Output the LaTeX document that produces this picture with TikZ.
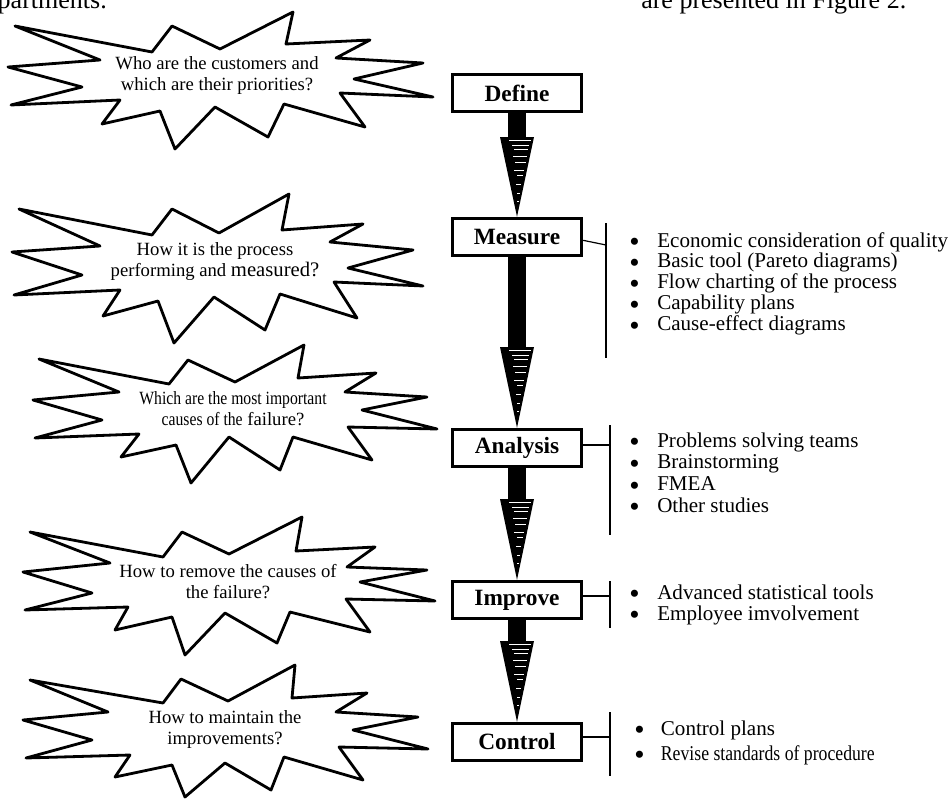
\documentclass[tikz,border=0pt]{standalone}
\usepackage{graphicx}
\usepackage{fontspec}
\setmainfont{Liberation Serif}
\newfontfamily\narrowfont[FakeStretch=0.84]{Liberation Serif}
\newcommand\bigbul{\smash{\raisebox{-0.5ex}{\scalebox{1.4}{\textbullet}}}}
\usetikzlibrary{calc}
\begin{document}
\begin{tikzpicture}[x=0.75pt,y=-0.75pt,
  burst/.style={draw=black, line width=2.1pt, line join=round, fill=white},
  qtext/.style={align=center, inner sep=0pt, font=\fontsize{14}{15.75}\selectfont},
  stage/.style={draw=black, line width=2.3pt, fill=white, minimum width=97pt, minimum height=28pt, inner sep=0pt, font=\bfseries\fontsize{17.5}{20}\selectfont},
  bracketline/.style={line width=0.9pt},
  listitem/.style={anchor=base west, inner sep=0pt, font=\fontsize{15.8}{18}\selectfont},
  toptext/.style={inner sep=0pt, font=\fontsize{19.5}{22}\selectfont},
  streak/.style={white, line width=0.75pt},
]
\useasboundingbox (0,0) rectangle (952,799);

% cut-off page text
\node[toptext, anchor=base east] (t1) at (107,9) {partments.};
\node[toptext, anchor=base west] (t2) at (641,9) {are presented in Figure 2.};

% bursts
\draw[burst] (15,26) -- (152,52) -- (172,26) -- (220,49) -- (293,12) -- (286,44) -- (370,40) -- (336,58) -- (423,63) -- (354,79) -- (433,97) -- (340,93) -- (365,127) -- (284,104) -- (268,137) -- (215,107) -- (175,149) -- (160,111) -- (102,124) -- (120,100) -- (11,105) -- (82,87) -- (8,67) -- (100,60) -- cycle;
\draw[burst] (19,209) -- (152,235) -- (172,209) -- (219,233) -- (289,194) -- (282,230) -- (363,224) -- (330,242) -- (413,250) -- (348,268) -- (423,286) -- (334,282) -- (357,318) -- (280,294) -- (265,330) -- (214,297) -- (174,343) -- (158,301) -- (103,316) -- (120,290) -- (14,295) -- (82,275) -- (12,252) -- (100,246) -- cycle;
\draw[burst] (39,359) -- (169,384) -- (188,360) -- (235,382) -- (304,345) -- (298,378) -- (376,373) -- (345,392) -- (427,397) -- (362,410) -- (437,429) -- (348,427) -- (372,460) -- (293,437) -- (280,470) -- (229,437) -- (191,483) -- (176,445) -- (121,457) -- (139,434) -- (35,438) -- (102,420) -- (33,400) -- (119,392) -- cycle;
\draw[burst] (30,532) -- (163,557) -- (182,532) -- (229,554) -- (302,517) -- (296,551) -- (375,547) -- (347,567) -- (427,570) -- (360,582) -- (435,601) -- (346,599) -- (370,632) -- (290,612) -- (277,643) -- (225,613) -- (185,655) -- (172,617) -- (115,630) -- (128,607) -- (25,610) -- (92,593) -- (23,572) -- (110,563) -- cycle;
\draw[burst] (30,680) -- (163,703) -- (181,679) -- (228,701) -- (295,665) -- (292,698) -- (367,693) -- (336,712) -- (418,717) -- (353,730) -- (428,749) -- (339,747) -- (363,780) -- (284,757) -- (271,790) -- (225,763) -- (185,797) -- (172,765) -- (115,777) -- (130,755) -- (26,758) -- (92,740) -- (23,720) -- (108,712) -- cycle;

% burst texts
\node[qtext] (q1) at (217,76) {Who are the customers and\\which are their priorities?};
\node[qtext] (q2) at (215,262) {How it is the process\\performing and {\fontsize{15.5}{15.75}\selectfont measured?}};
\node[qtext] (q3) at (233,409) {{\narrowfont Which are the most important}\\{\narrowfont causes of the} failure?};
\node[qtext] (q4) at (228,582) {How to remove the causes of\\the failure?};
\node[qtext] (q5) at (225,730) {How to maintain the\\improvements?};

% stages
\node[stage] (define) at (517,93) {Define};
\node[stage] (measure) at (517,237) {Measure};
\node[stage] (analysis) at (517,448) {Analysis};
\node[stage] (improve) at (517,600) {Improve};
\node[stage] (control) at (517,742) {Control};

% arrows
\foreach \a/\b/\h in {define/measure/137,measure/analysis/347,analysis/improve/499,improve/control/641}{
  \fill ([xshift=-6.75pt]\a.south) rectangle (526,\h);
  \fill (500,\h) -- (534,\h) -- (\b.north) -- cycle;
  \foreach \dy/\xl/\xr in {3/509/531, 8/512/529, 12/514/528, 19/513/527, 25/515/526, 33/514/524, 38/517/523, 47/516/521, 56/517/520, 64/517/519}{
    \draw[streak] (\xl,{\h+\dy}) -- (\xr,{\h+\dy});
  }
}

% brackets
\coordinate (mh) at (606,245); \coordinate (mt) at (606,223); \coordinate (mb) at (606,358);
\draw[bracketline] ([yshift=-2.5pt]measure.east) -- (mh);
\draw[bracketline] (mt) -- (mb);
\coordinate (ah) at (610,445); \coordinate (at) at (610,425); \coordinate (ab) at (610,535);
\draw[bracketline] (analysis.east |- ah) -- (ah);
\draw[bracketline] (at) -- (ab);
\coordinate (ih) at (610,596); \coordinate (it) at (610,581); \coordinate (ib) at (610,628);
\draw[bracketline] (improve.east |- ih) -- (ih);
\draw[bracketline] (it) -- (ib);
\coordinate (ch) at (610,737); \coordinate (ct) at (610,712); \coordinate (cb) at (610,776);
\draw[bracketline] (control.east |- ch) -- (ch);
\draw[bracketline] (ct) -- (cb);

% lists
\foreach \t [count=\i] in {Economic consideration of quality, Basic tool (Pareto diagrams), Flow charting of the process, Capability plans, Cause-effect diagrams}{
  \node[listitem] (m\i) at (629,{247+20.8*(\i-1)}) {\makebox[21pt][l]{\bigbul}\t};
}
\foreach \t [count=\i] in {Problems solving teams, Brainstorming, FMEA, Other studies}{
  \node[listitem] (a\i) at (629,{447+21.7*(\i-1)}) {\makebox[21pt][l]{\bigbul}\t};
}
\foreach \t [count=\i] in {Advanced statistical tools, Employee imvolvement}{
  \node[listitem] (i\i) at (629,{599+21*(\i-1)}) {\makebox[21pt][l]{\bigbul}\t};
}
\node[listitem] (c1) at (634,735) {\makebox[20pt][l]{\bigbul}Control plans};
\node[listitem] (c2) at (634,760) {\makebox[20pt][l]{\bigbul}{\narrowfont Revise standards of procedure}};
\end{tikzpicture}
\end{document}
